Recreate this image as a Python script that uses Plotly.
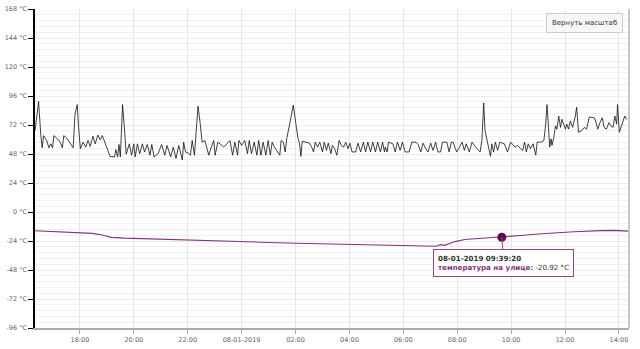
import pandas as pd
import plotly.graph_objects as go

START = pd.Timestamp("2019-01-07 16:20:00")
END = pd.Timestamp("2019-01-08 14:22:30")

# black series: minutes after START, value in °C
BLACK_MIN = [0, 8, 13, 16, 19, 26, 31, 35, 39, 42, 50, 56, 61, 64, 72, 80, 85, 89, 94, 97,
             101, 107, 113, 118, 123, 129, 134, 140, 145, 150, 155, 162, 167, 177, 180, 184, 187, 190, 195, 200,
             203, 210, 215, 220, 223, 228, 233, 239, 244, 250, 256, 260, 265,
             274, 282, 289, 294, 302, 308, 314, 320, 328, 331, 335, 341, 346, 350, 355, 359, 363, 368,
             372, 378, 383, 387, 390, 398, 401, 407, 412, 420, 427, 434, 440, 445, 451, 454, 460, 467,
             473, 477, 482, 488, 494, 498, 503, 508, 514, 519, 524, 528,
             533, 545, 548, 553, 557, 561, 567, 575, 579, 585, 589, 592, 595, 603, 611, 616, 620, 624,
             629, 634, 640, 644, 649, 653, 659, 662, 667, 672, 677, 682, 687, 692, 697, 701, 706, 714,
             719, 725, 731, 736, 741, 747, 752, 758, 763, 769, 774, 778, 780, 784, 787,
             797, 802, 807, 813, 818, 824, 833, 839, 848, 853, 859, 864, 870, 875, 881, 886, 892, 897,
             903, 907, 917, 922, 927, 931, 936, 939, 945, 951, 956, 960, 967, 973, 981, 991, 995, 999,
             1002, 1008, 1014, 1017, 1021, 1025, 1030, 1035, 1045, 1052, 1059,
             1069, 1074, 1081, 1086, 1090, 1094, 1098, 1103, 1109, 1115, 1118, 1126, 1133, 1137, 1140,
             1144, 1146, 1149, 1151, 1155, 1159, 1162, 1166, 1170, 1173, 1177, 1181, 1184, 1188, 1192,
             1197, 1203, 1206, 1210, 1217, 1223, 1228, 1234, 1239, 1245, 1248, 1253, 1258, 1263, 1267,
             1272, 1278, 1282, 1287, 1291, 1295, 1297, 1301, 1306, 1310, 1313, 1317]
BLACK_VAL = [67.3, 91.6, 63.2, 53.2, 63.2, 59.2, 53.2, 56.4, 53.2, 63.2, 60.5, 57.8, 53.2, 63.2, 60.5, 56.4, 53.2, 80.8, 88.9, 70,
             52.4, 57.8, 53.7, 59.2, 54.3, 62.7, 56.4, 63.7, 59.7, 63.2, 57.8, 51, 46.1, 45.6, 51.6, 45.6, 55.9, 45.6, 88.9, 64.5,
             47.8, 56.4, 47, 56.4, 45.6, 56.4, 48.3, 56.4, 49.7, 55.9, 47, 55.9, 45.6,
             48.3, 55.9, 47, 55.1, 45.6, 53.7, 44.3, 55.1, 43, 57.8, 49.7, 48.8, 47, 59.2, 47, 67.3, 87.6, 72.7,
             57.8, 59.2, 51, 47, 51, 59.2, 47, 57.8, 56.4, 53.7, 56.4, 59.2, 47, 57.8, 47, 59.2, 55.1, 59.2,
             48.3, 59.2, 48.3, 57.8, 47, 59.2, 47, 57.8, 47, 59.2, 47, 57.8,
             53.7, 47, 59.2, 57.8, 49.7, 61.8, 72.7, 88.4, 78, 61.8, 56.4, 46.1, 58.6, 57.8, 57, 53.7, 49.7, 57.8,
             53.7, 57.8, 49.7, 57.8, 51, 57, 48.3, 55.1, 52.4, 47, 59.2, 55.1, 53.7, 57.8, 52.4, 57, 49.7, 49.7,
             57, 49.7, 57.8, 49.7, 57.8, 49.7, 57.8, 49.7, 57.8, 49.7, 57.8, 49.7, 53.7, 49.7, 57.8,
             56.4, 49.7, 57.8, 51, 57.8, 49.7, 49.7, 57.8, 57.8, 55.9, 49.7, 57, 52.4, 49.7, 57, 51, 57.8, 49.7,
             49.7, 57.8, 57.8, 49.7, 57.8, 57.8, 52.4, 49.7, 53.7, 57.8, 51, 56.4, 49.7, 57.8, 53.7, 49.7, 59.2, 90.3,
             67.3, 57.8, 46.1, 56.4, 49.7, 57.8, 51, 57.8, 56.4, 49.7, 57.8,
             53.7, 55.1, 52.4, 51, 57.8, 49.7, 56.4, 52.4, 56.4, 47, 57.8, 57.8, 59.2, 72.7, 88.9,
             70, 53.7, 60.5, 55.1, 61.8, 71.3, 68.6, 79.4, 70, 76.7, 72.7, 68.6, 72.7, 68.6, 75.4,
             70, 79.4, 86.7, 66, 67.3, 70, 68.6, 78.6, 78.6, 78, 75.4, 68.6, 74, 78, 70,
             68.6, 74, 71.3, 70, 79.4, 72.7, 88.9, 66, 71.3, 75.4, 79.4, 76.7]

# purple series: outdoor temperature
OUT_MIN = [0, 25, 52, 90, 128, 150, 170, 200, 255, 300, 340, 400, 461, 520, 580, 640, 700, 760, 820,
           861, 880, 893, 903, 912, 923, 935, 957, 985, 1008, 1082, 1120, 1156, 1200, 1258, 1290, 1322]
OUT_VAL = [-15.5, -15.9, -16.3, -17.0, -17.7, -19.0, -21.0, -21.6, -22.3, -22.8, -23.3, -23.9, -24.6, -25.2,
           -25.8, -26.3, -26.7, -27.0, -27.4, -27.6, -28.2, -28.4, -27.0, -27.6, -26.0, -24.5, -22.8, -22.1,
           -21.6, -19.4, -18.2, -17.3, -16.4, -15.4, -15.2, -15.8]

HOVER_TIME = pd.Timestamp("2019-01-08 09:39:20")
HOVER_VAL = -20.92
SERIES_NAME = "температура на улице"

TICK_TIMES = ["2019-01-07 18:00", "2019-01-07 20:00", "2019-01-07 22:00", "2019-01-08 00:00",
              "2019-01-08 02:00", "2019-01-08 04:00", "2019-01-08 06:00", "2019-01-08 08:00",
              "2019-01-08 10:00", "2019-01-08 12:00", "2019-01-08 14:00"]
TICK_LABELS = ["18:00", "20:00", "22:00", "08-01-2019", "02:00", "04:00", "06:00", "08:00",
               "10:00", "12:00", "14:00"]
Y_TICKS = [168, 144, 120, 96, 72, 48, 24, 0, -24, -48, -72, -96]
Y_LABELS = [f"{v} °C" for v in Y_TICKS]

black_x = START + pd.to_timedelta(BLACK_MIN, unit="m")
out_df = pd.DataFrame({"t": START + pd.to_timedelta(OUT_MIN, unit="m"), "v": OUT_VAL})
out_df = pd.concat([out_df, pd.DataFrame({"t": [HOVER_TIME], "v": [HOVER_VAL]})]).sort_values("t")

PURPLE = "#86327c"
FONT = "DejaVu Sans"

fig = go.Figure()
fig.add_trace(go.Scatter(x=black_x, y=BLACK_VAL, mode="lines",
                         line=dict(color="#111111", width=0.8), showlegend=False))
fig.add_trace(go.Scatter(x=out_df["t"], y=out_df["v"], mode="lines",
                         line=dict(color=PURPLE, width=1.1), showlegend=False, name=SERIES_NAME))
fig.add_trace(go.Scatter(x=[HOVER_TIME], y=[HOVER_VAL], mode="markers",
                         marker=dict(color="#5a0e4e", size=9), showlegend=False))

tip = (f"<b>{HOVER_TIME:%d-%m-%Y %H:%M:%S}</b><br>"
       f"<span style='color:{PURPLE}'><b>{SERIES_NAME}:</b></span> "
       f"{HOVER_VAL:.2f} °C")
fig.add_annotation(x=HOVER_TIME, y=HOVER_VAL, text=tip, align="left", showarrow=True,
                   arrowhead=0, arrowcolor="#8b4a82", arrowwidth=1, ax=2, ay=26,
                   bgcolor="white", bordercolor="#8b4a82", borderwidth=1, borderpad=4,
                   font=dict(family=FONT, size=7.1, color="#333333"))
fig.add_annotation(xref="paper", yref="paper", x=0.9895, y=0.987, xanchor="right", yanchor="top",
                   text="Вернуть масштаб", showarrow=False, bgcolor="#f7f7f7",
                   bordercolor="#cccccc", borderwidth=1, borderpad=5,
                   font=dict(family=FONT, size=7, color="#333333"))
fig.add_shape(type="line", xref="paper", yref="paper", x0=1, x1=1, y0=0, y1=1,
              line=dict(color="#c8c8c8", width=2))

fig.update_layout(
    width=640, height=349, margin=dict(l=30, r=11, t=5, b=17),
    paper_bgcolor="white", plot_bgcolor="white",
    font=dict(family=FONT, size=6.5, color="#666666"),
    xaxis=dict(range=[START, END], tickvals=TICK_TIMES, ticktext=TICK_LABELS,
               showgrid=True, gridcolor="#e6e6e6", gridwidth=1,
               showline=True, linecolor="#aaaaaa", linewidth=2,
               ticks="outside", ticklen=4, tickcolor="#aaaaaa", zeroline=False),
    yaxis=dict(range=[-96, 168], tickvals=Y_TICKS, ticktext=Y_LABELS,
               showgrid=True, gridcolor="#ececec", gridwidth=1,
               minor=dict(dtick=4.8, tick0=0, showgrid=True, gridcolor="#f1f1f1", gridwidth=1),
               showline=True, linecolor="#000000", linewidth=1.5,
               ticks="outside", ticklen=5, tickcolor="#000000", zeroline=False),
)

fig.write_html("out.html")
